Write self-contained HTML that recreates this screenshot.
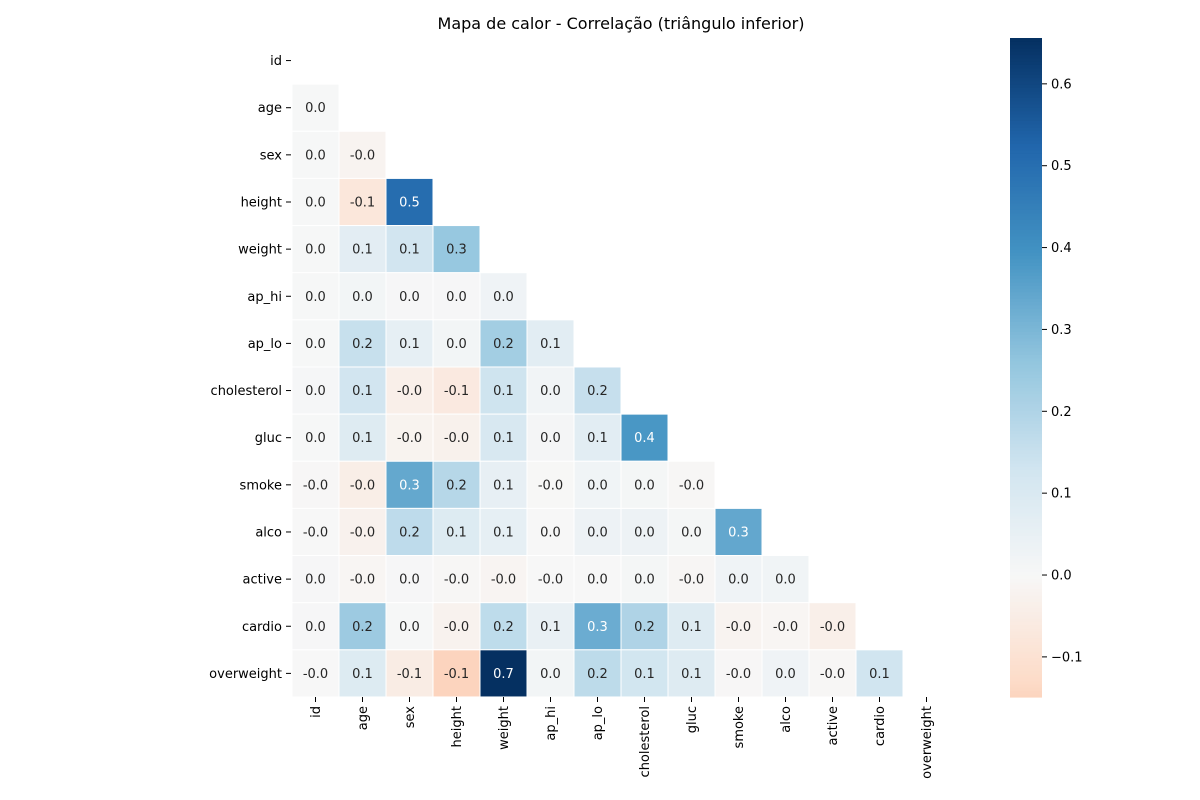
<!DOCTYPE html>
<html><head><meta charset="utf-8"><style>
body{margin:0;background:#fff;}
svg{display:block;font-family:"DejaVu Sans","Liberation Sans",sans-serif;}
</style></head><body>
<svg id="chart" width="1200" height="800" viewBox="0 0 1200 800" xmlns="http://www.w3.org/2000/svg">
<text x="621" y="29" text-anchor="middle" font-size="16" fill="#000">Mapa de calor - Correlação (triângulo inferior)</text>
<g id="cells"></g><g id="xt"></g><g id="yt"></g><g id="cb"></g>
</svg>
<script>
const labels = ["id","age","sex","height","weight","ap_hi","ap_lo","cholesterol","gluc","smoke","alco","active","cardio","overweight"];
const corrRows = [
  [],
  [0.002],
  [0.003,-0.018],
  [0.003,-0.077,0.505],
  [0.002,0.070,0.129,0.251],
  [0.003,0.018,0.005,0.004,0.027],
  [0.002,0.153,0.060,0.017,0.227,0.072],
  [0.006,0.129,-0.037,-0.064,0.135,0.022,0.155],
  [0.002,0.087,-0.021,-0.030,0.107,0.011,0.074,0.384],
  [-0.003,-0.044,0.338,0.187,0.056,-0.002,0.023,0.010,-0.005],
  [-0.001,-0.026,0.171,0.089,0.059,0.001,0.034,0.035,0.010,0.341],
  [0.005,-0.011,0.005,-0.005,-0.014,-0.001,0.001,0.010,-0.008,0.026,0.025],
  [0.004,0.240,0.002,-0.024,0.170,0.050,0.327,0.203,0.088,-0.020,-0.011,-0.037],
  [-0.001,0.089,-0.053,-0.149,0.656,0.017,0.172,0.127,0.088,-0.004,0.026,-0.005,0.131]
];
const cbTicks = [-0.1,0.0,0.1,0.2,0.3,0.4,0.5,0.6];

const NS="http://www.w3.org/2000/svg";
const X0=292, Y0=37, CW=47.0, CH=47.14;
const vmin=-0.149, vmax=0.656, vr=0.656;
const stops=["#67001f","#b2182b","#d6604d","#f4a582","#fddbc7","#f7f7f7","#d1e5f0","#92c5de","#4393c3","#2166ac","#053061"].map(h=>[1,3,5].map(i=>parseInt(h.substr(i,2),16)));
function cmap(v){let t=(v+vr)/(2*vr);t=Math.max(0,Math.min(1,t));const p=t*10,i=Math.min(9,Math.floor(p)),f=p-i;return stops[i].map((c,k)=>c+(stops[i+1][k]-c)*f);}
function rgb(c){return "rgb("+c.map(Math.round).join(",")+")";}
function lum(c){const l=c.map(x=>{x/=255;return x<=0.03928?x/12.92:Math.pow((x+0.055)/1.055,2.4);});return 0.2126*l[0]+0.7152*l[1]+0.0722*l[2];}
function el(t,a,p){const e=document.createElementNS(NS,t);for(const k in a)e.setAttribute(k,a[k]);p.appendChild(e);return e;}
const xs=i=>X0+i*CW, ys=j=>Y0+j*CH;
const cells=document.getElementById('cells');
corrRows.forEach((row,r)=>row.forEach((v,c)=>{
  const col=cmap(v);
  const rc=el('rect',{x:xs(c),y:ys(r),width:CW,height:CH,fill:rgb(col),stroke:"#fff","stroke-width":1},cells);
  
  
  const tx=el('text',{x:xs(c)+CW/2,y:ys(r)+CH/2+4.5,"text-anchor":"middle","font-size":13,fill:lum(col)>0.408?"#262626":"#fff"},cells);
  tx.textContent=v.toFixed(1);
  
  
}));
const xt=document.getElementById('xt'), yt=document.getElementById('yt');
labels.forEach((l,i)=>{
  const cx=xs(i)+CW/2, cy=ys(i)+CH/2;
  el('line',{x1:cx,x2:cx,y1:697,y2:702,stroke:"#000"},xt);
  const t=el('text',{x:0,y:0,transform:`translate(${cx+4.5},706) rotate(-90)`,"text-anchor":"end","font-size":13},xt);
  t.textContent=l;
  
  
  el('line',{x1:286,x2:291,y1:cy,y2:cy,stroke:"#000"},yt);
  const u=el('text',{x:282,y:cy+4.5,"text-anchor":"end","font-size":13},yt);
  u.textContent=l;
  
  
});
const cb=document.getElementById('cb');
const CB0=38, CB1=697, cy=v=>CB1-(v-vmin)/(vmax-vmin)*(CB1-CB0);
for(let k=0;k<200;k++){
  const v0=vmin+(vmax-vmin)*k/200, v1=vmin+(vmax-vmin)*(k+1)/200;
  el('rect',{x:1010,y:cy(v1),width:32,height:cy(v0)-cy(v1)+0.6,fill:rgb(cmap((v0+v1)/2))},cb);
}
cbTicks.forEach(v=>{
  el('line',{x1:1042,x2:1047,y1:cy(v),y2:cy(v),stroke:"#000"},cb);
  const t=el('text',{x:1051,y:cy(v)+4.5,"font-size":13},cb);
  t.textContent=(v<0?"\u2212":"")+Math.abs(v).toFixed(1);
  
  
});
</script>
</body></html>
